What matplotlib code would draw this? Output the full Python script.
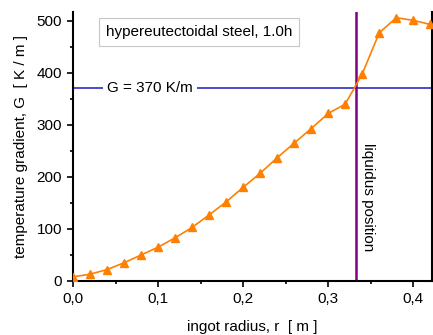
import numpy as np
from matplotlib import pyplot as plt
from matplotlib.ticker import MultipleLocator, FuncFormatter

plt.rcParams['font.family'] = ['Liberation Sans', 'DejaVu Sans']

radius = [0.00, 0.02, 0.04, 0.06, 0.08, 0.10, 0.12, 0.14, 0.16, 0.18, 0.20,
          0.22, 0.24, 0.26, 0.28, 0.30, 0.32, 0.34, 0.36, 0.38, 0.40, 0.42]
gradient = [8, 13, 22, 35, 50, 65, 83, 103, 127, 152, 180,
            207, 237, 265, 293, 322, 340, 398, 477, 506, 501, 493]
G_level = 370
liquidus_r = 0.333

fs = 11
fig = plt.figure(figsize=(4.33, 3.35), dpi=100)
ax = fig.add_axes([73/433, 54/335, 359/433, 269/335])

ax.plot(radius, gradient, color='#ff8000', lw=1.2, marker='^', ms=6,
        zorder=3)
ax.axhline(G_level, color='#1a1ab8', lw=1.1, zorder=2)
ax.axvline(liquidus_r, color='#800080', lw=1.8, zorder=2)

ax.text(0.04, G_level, 'G = 370 K/m', fontsize=fs, va='center', ha='left',
        bbox=dict(facecolor='white', edgecolor='none', pad=3), zorder=2.5)
ax.text(0.039, 478, 'hypereutectoidal steel, 1.0h', fontsize=fs,
        va='center', ha='left',
        bbox=dict(facecolor='white', edgecolor='#c8c8c8', pad=5, lw=0.8))
ax.text(liquidus_r + 0.005, 162, 'liquidus position', fontsize=fs,
        rotation=-90, va='center', ha='left')

ax.set_xlim(0, 0.422)
ax.set_ylim(0, 517)
ax.xaxis.set_major_locator(MultipleLocator(0.1))
ax.xaxis.set_minor_locator(MultipleLocator(0.05))
ax.yaxis.set_major_locator(MultipleLocator(100))
ax.yaxis.set_minor_locator(MultipleLocator(50))
ax.xaxis.set_major_formatter(FuncFormatter(lambda v, p: ('%.1f' % v).replace('.', ',')))
ax.tick_params(which='both', direction='out', labelsize=fs, width=1.2)
ax.tick_params(which='major', length=4.5)
ax.tick_params(which='minor', length=2.5)
ax.spines['top'].set_visible(False)
for s in ['left', 'bottom', 'right']:
    ax.spines[s].set_linewidth(1.5)

ax.set_xlabel('ingot radius, r  [ m ]', fontsize=fs, labelpad=10)
ax.set_ylabel('temperature gradient, G  [ K / m ]', fontsize=fs, labelpad=6)

fig.savefig('out.png', dpi=100)
